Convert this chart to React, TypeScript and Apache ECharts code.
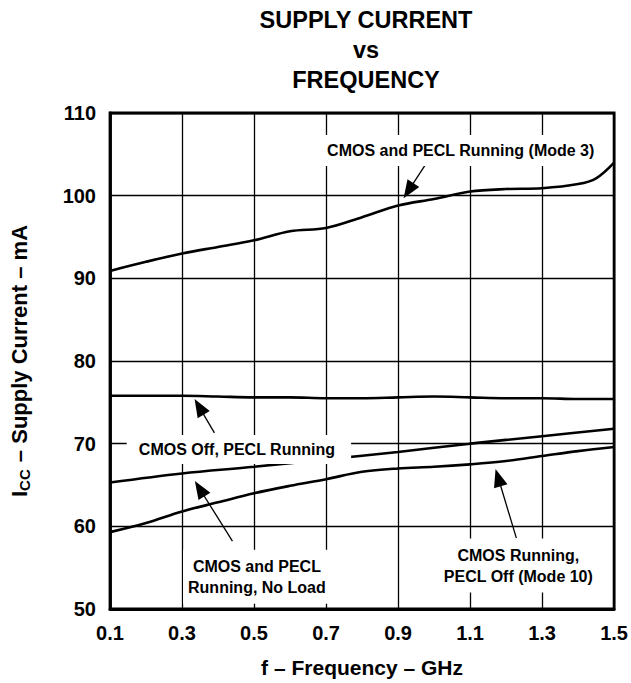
import React, { useEffect, useRef } from "react";
import * as echarts from "echarts";

const FONT = "'Liberation Sans', Arial, Helvetica, sans-serif";
const F0 = 0.1; // axis origin (GHz)

const X_TICKS = [0.1, 0.3, 0.5, 0.7, 0.9, 1.1, 1.3, 1.5];

const FREQ_MODE3 = [0.1, 0.2, 0.3, 0.4, 0.5, 0.6, 0.7, 0.8, 0.9, 1.0, 1.1, 1.2, 1.3, 1.4, 1.45, 1.5];
const MODE3 = [90.9, 92.0, 93.0, 93.8, 94.6, 95.7, 96.1, 97.4, 98.8, 99.6, 100.5, 100.8, 100.9, 101.4, 102.1, 104.0];

const FREQ = [0.1, 0.2, 0.3, 0.4, 0.5, 0.6, 0.7, 0.8, 0.9, 1.0, 1.1, 1.2, 1.3, 1.4, 1.5];
const CMOS_OFF = [75.8, 75.8, 75.8, 75.7, 75.6, 75.6, 75.5, 75.5, 75.6, 75.7, 75.6, 75.5, 75.5, 75.4, 75.4];
const MODE10 = [59.3, 60.4, 61.8, 62.9, 64.0, 64.9, 65.7, 66.6, 67.0, 67.2, 67.5, 67.9, 68.5, 69.1, 69.6];

const FREQ_NOLOAD = [0.1, 0.3, 0.5, 0.7, 0.9, 1.1, 1.3, 1.5];
const NOLOAD = [65.3, 66.4, 67.2, 68.1, 69.0, 70.0, 70.9, 71.8];

// annotation labels: [text, GHz, mA]
const LABELS: [string, number, number][] = [
  ["CMOS and PECL Running (Mode 3)", 1.074, 105.45],
  ["CMOS Off, PECL Running", 0.458, 69.3],
  ["CMOS and PECL\nRunning, No Load", 0.508, 53.9],
  ["CMOS Running,\nPECL Off (Mode 10)", 1.234, 55.25],
];
const LABEL_PADDING = [
  [5, 7, 5, 7],
  [4, 16, 4, 12],
  [6, 5, 6, 5],
  [6, 5, 6, 5],
];

// arrows: [fromGHz, fromMA, toGHz, toMA]
const ARROWS: [number, number, number, number][] = [
  [0.991, 104.76, 0.929, 100.6],
  [0.39, 71.31, 0.3476, 74.45],
  [0.44, 58.21, 0.349, 64.55],
  [1.2286, 58.57, 1.178, 65.9],
];

const toData = (xs: number[], ys: number[]) =>
  xs.map((f, i) => [Math.round((f - F0) * 1000) / 1000, ys[i]]);

export default function App() {
  const ref = useRef<HTMLDivElement>(null);
  useEffect(() => {
    if (!ref.current) return;
    const chart = echarts.init(ref.current, null, { renderer: "svg" });
    const lineSeries = (name: string, data: number[][], extra: any = {}) => ({
      type: "line",
      name,
      data,
      smooth: 0.35,
      symbol: "none",
      silent: true,
      lineStyle: { color: "#000", width: 2.6 },
      emphasis: { disabled: true },
      ...extra,
    });
    chart.setOption({
      animation: false,
      backgroundColor: "#fff",
      title: {
        text: "SUPPLY CURRENT\nvs\nFREQUENCY",
        left: 361,
        top: 0,
        textAlign: "center",
        textStyle: {
          fontFamily: FONT,
          fontWeight: "bold",
          fontSize: 23.5,
          lineHeight: 30,
          color: "#000",
        },
      },
      grid: {
        left: 110,
        right: 15,
        top: 113,
        bottom: 66,
        show: true,
        borderColor: "#000",
        borderWidth: 2.8,
        backgroundColor: "transparent",
      },
      xAxis: {
        type: "value",
        min: 0,
        max: 1.4,
        interval: 0.2,
        name: "f – Frequency – GHz",
        nameLocation: "middle",
        nameGap: 48,
        nameTextStyle: { fontFamily: FONT, fontWeight: "bold", fontSize: 21, color: "#000" },
        axisLine: { show: true, lineStyle: { color: "#000", width: 2.8 } },
        axisTick: { show: false },
        axisLabel: {
          margin: 14,
          fontFamily: FONT,
          fontWeight: "bold",
          fontSize: 20,
          color: "#000",
          formatter: (v: number) => {
            const f = Math.round((v + F0) * 10) / 10;
            return X_TICKS.includes(f) ? f.toFixed(1) : "";
          },
        },
        splitLine: { show: true, lineStyle: { color: "#000", width: 1.3 } },
      },
      yAxis: {
        type: "value",
        min: 50,
        max: 110,
        interval: 10,
        name: "{i|I}{s|CC}{i| – Supply Current – mA}",
        nameLocation: "middle",
        nameGap: 78,
        nameRotate: 90,
        nameTextStyle: {
          fontFamily: FONT,
          fontWeight: "bold",
          color: "#000",
          rich: {
            i: { fontFamily: FONT, fontWeight: "bold", fontSize: 22, lineHeight: 26, color: "#000" },
            s: {
              fontFamily: FONT,
              fontWeight: "bold",
              fontSize: 15,
              lineHeight: 26,
              verticalAlign: "bottom",
              padding: [0, 1, 0, 0],
              color: "#000",
            },
          },
        },
        axisLine: { show: true, lineStyle: { color: "#000", width: 2.8 } },
        axisTick: { show: false },
        axisLabel: {
          margin: 14,
          fontFamily: FONT,
          fontWeight: "bold",
          fontSize: 20,
          color: "#000",
        },
        splitLine: { show: true, lineStyle: { color: "#000", width: 1.3 } },
      },
      series: [
        lineSeries("CMOS and PECL Running (Mode 3)", toData(FREQ_MODE3, MODE3), {
          markLine: {
            silent: true,
            symbol: ["none", "triangle"],
            symbolSize: [14, 18],
            label: { show: false },
            emphasis: { disabled: true },
            lineStyle: { color: "#000", width: 1.3, type: "solid" },
            itemStyle: { color: "#000" },
            data: ARROWS.map((a) => [
              { coord: [a[0] - F0, a[1]] },
              { coord: [a[2] - F0, a[3]] },
            ]),
          },
        }),
        lineSeries("CMOS Off, PECL Running", toData(FREQ, CMOS_OFF)),
        lineSeries("CMOS and PECL Running, No Load", toData(FREQ_NOLOAD, NOLOAD)),
        lineSeries("CMOS Running, PECL Off (Mode 10)", toData(FREQ, MODE10)),
      ],
    });

    const graphic = LABELS.map(([text, f, v], i) => {
      const p = chart.convertToPixel({ xAxisIndex: 0, yAxisIndex: 0 }, [f - F0, v]) as number[];
      return {
        type: "text",
        x: p[0],
        y: p[1],
        z: 50,
        silent: true,
        style: {
          text,
          fontFamily: FONT,
          fontWeight: "bold",
          fontSize: 16,
          lineHeight: 21,
          fill: "#000",
          align: "center",
          verticalAlign: "middle",
          backgroundColor: "#fff",
          padding: LABEL_PADDING[i],
        },
      };
    });
    chart.setOption({ graphic });

    return () => chart.dispose();
  }, []);
  return (
    <div
      ref={ref}
      style={{ position: "fixed", left: 0, top: 0, width: 631, height: 683 }}
    />
  );
}
